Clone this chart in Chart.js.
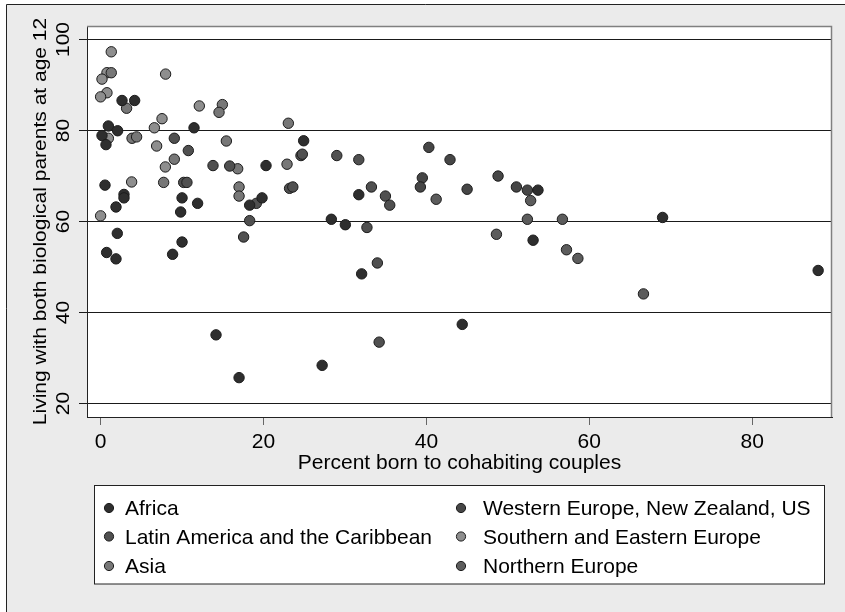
<!DOCTYPE html>
<html><head><meta charset="utf-8">
<script src="https://cdn.jsdelivr.net/npm/chart.js@4"></script>
<style>html,body{margin:0;padding:0;background:#fff}#wrap{width:845px;height:612px;position:relative}canvas{display:block}</style>
</head><body><div id="wrap"><canvas id="c" width="845" height="612"></canvas></div>
<script>
// ---- data ----
const seriesNames = ['Africa','Latin America and the Caribbean','Asia','Western Europe, New Zealand, US','Southern and Eastern Europe','Northern Europe'];
const africaX = [2.63,4.18,11.47,0.95,2.09,0.17,0.66,20.31,0.54,2.87,2.87,1.89,10.0,9.83,11.91,18.3,19.82,2.05,0.74,1.89,10.0,8.84,14.17,17.0,24.93,31.7,28.33,30.05,32.05,44.4,27.2,53.7,69.0,53.1,88.1];
const africaY = [86.6,86.6,80.6,81.0,79.95,78.9,76.9,72.3,68.0,65.96,65.2,63.2,65.2,62.1,64.0,63.6,65.2,57.4,53.2,51.8,55.5,52.8,35.1,25.7,77.75,65.9,60.5,59.3,48.5,37.4,28.4,66.9,60.9,55.9,49.25];
const latinX = [9.05,10.77,13.8,15.85,10.2,10.6,19.12,18.3,23.2,23.6,17.56,24.6,24.77,29.0,31.7,33.25,34.97,35.5,32.7,33.98,34.2];
const latinY = [78.3,75.6,72.3,72.2,68.6,68.6,64.0,60.2,67.3,67.6,56.6,74.5,74.8,74.5,73.6,67.6,65.6,63.6,58.7,50.9,33.5];
const asiaX = [1.31,3.19,3.86,4.42,14.95,14.54,15.44,9.05,16.83,7.74,17.0,17.0,23.05,22.89];
const asiaY = [92.7,84.9,78.3,78.6,85.7,84.0,77.7,73.7,71.6,68.6,67.6,65.6,81.6,72.6];
const westX = [40.3,42.9,39.5,39.26,45.0,48.8,51.05,52.4];
const westY = [76.3,73.6,69.6,67.6,67.1,70.0,67.6,66.9];
const southX = [1.31,0.78,0.17,7.98,0.78,0.0,12.12,7.54,6.6,0.95,6.88,7.95,3.81,0.0];
const southY = [97.3,92.7,91.3,92.4,88.3,87.4,85.4,82.6,80.6,78.3,76.6,72.0,68.7,61.25];
const northX = [41.2,52.8,52.4,56.7,48.6,57.2,58.6,66.65];
const northY = [64.9,64.6,60.5,60.5,57.2,53.8,51.9,44.1];
const xTickValues = [0,20,40,60,80];
const xTickLabels = ['0','20','40','60','80'];
const yTickValues = [20,40,60,80,100];
const yTickLabels = ['20','40','60','80','100'];
const xTitle = 'Percent born to cohabiting couples';
const yTitle = 'Living with both biological parents at age 12';

// ---- styles ----
const seriesColors = ['#2e2e2e','#505050','#777777','#464646','#8e8e8e','#5c5c5c'];
const FONT = '"Liberation Sans", Arial, Helvetica, sans-serif';

function pts(xs, ys){ return xs.map((x,i)=>({x:x, y:ys[i]})); }
const seriesData = [pts(africaX,africaY),pts(latinX,latinY),pts(asiaX,asiaY),pts(westX,westY),pts(southX,southY),pts(northX,northY)];

const datasets = seriesNames.map((n,i)=>({
  label:n, data:seriesData[i],
  backgroundColor:seriesColors[i], borderColor:'#1c1c1c', borderWidth:1,
  pointRadius:5.2, pointHoverRadius:5.2
}));

function vtext(ctx, text, x, y){
  ctx.save(); ctx.translate(x,y); ctx.rotate(-Math.PI/2); ctx.scale(1,0.88);
  ctx.textAlign='center'; ctx.textBaseline='alphabetic'; ctx.fillText(text,0,0); ctx.restore();
}

const stataPlugin = {
  id:'stata',
  beforeDraw(chart){
    const ctx=chart.ctx, a=chart.chartArea;
    ctx.save();
    ctx.fillStyle='#ffffff'; ctx.fillRect(0,0,chart.width,chart.height);
    ctx.fillStyle='#ebebeb'; ctx.fillRect(7,5,chart.width-7,chart.height-5);
    ctx.strokeStyle='#222'; ctx.lineWidth=1;
    ctx.beginPath(); ctx.moveTo(6.5,chart.height); ctx.lineTo(6.5,4.5); ctx.lineTo(chart.width,4.5); ctx.stroke();
    ctx.fillStyle='#ffffff'; ctx.fillRect(a.left,a.top,a.right-a.left,a.bottom-a.top);
    ctx.restore();
  },
  afterDraw(chart){
    const ctx=chart.ctx, a=chart.chartArea, xs=chart.scales.x, ys=chart.scales.y;
    ctx.save();
    // top/right plot border
    ctx.strokeStyle='#808080'; ctx.lineWidth=1.5;
    ctx.beginPath(); ctx.moveTo(a.left,a.top+0.5); ctx.lineTo(a.right-0.5,a.top+0.5); ctx.lineTo(a.right-0.5,a.bottom); ctx.stroke();
    ctx.fillStyle='#000';
    ctx.font='21px '+FONT;
    // x tick labels
    ctx.textAlign='center'; ctx.textBaseline='alphabetic';
    xTickValues.forEach((v,i)=>{ ctx.fillText(xTickLabels[i], xs.getPixelForValue(v), 448); });
    // x title
    ctx.fillText(xTitle, (a.left+a.right)/2, 468.5);
    // y tick labels
    yTickValues.forEach((v,i)=>{ vtext(ctx, yTickLabels[i], 69, ys.getPixelForValue(v)); });
    // y title
    vtext(ctx, yTitle, 46, (a.top+a.bottom)/2);
    // legend
    ctx.fillStyle='#fff'; ctx.fillRect(94,485,731,99);
    ctx.strokeStyle='#222'; ctx.lineWidth=1; ctx.strokeRect(94.5,485.5,730,98.5);
    const colX=[109,461], txtX=[125,483], rowY=[508,536.5,566], baseY=[514.5,543.5,573];
    chart.data.datasets.forEach((ds,i)=>{
      const c=Math.floor(i/3), r=i%3;
      ctx.beginPath(); ctx.arc(colX[c], rowY[r], 4.6, 0, Math.PI*2);
      ctx.fillStyle=ds.backgroundColor; ctx.fill();
      ctx.strokeStyle='#1c1c1c'; ctx.lineWidth=1; ctx.stroke();
      ctx.fillStyle='#000'; ctx.textAlign='left';
      ctx.fillText(ds.label, txtX[c], baseY[r]);
    });
    ctx.restore();
  }
};

new Chart(document.getElementById('c'), {
  type:'scatter',
  data:{datasets:datasets},
  plugins:[stataPlugin],
  options:{
    responsive:false, animation:false, devicePixelRatio:1,
    layout:{padding:{left:0,right:13,top:26,bottom:0}},
    plugins:{legend:{display:false}, tooltip:{enabled:false}},
    scales:{
      x:{type:'linear', min:-1.67, max:89.8,
        afterBuildTicks(s){ s.ticks = xTickValues.map(v=>({value:v})); },
        afterFit(s){ s.height = 195; },
        ticks:{display:false},
        grid:{display:true, drawOnChartArea:false, drawTicks:true, tickLength:8, tickColor:'#666', tickWidth:1},
        border:{display:true, color:'#222', width:1}
      },
      y:{type:'linear', min:17.05, max:102.97,
        afterBuildTicks(s){ s.ticks = yTickValues.map(v=>({value:v})); },
        afterFit(s){ s.width = 87; },
        ticks:{display:false},
        grid:{display:true, drawOnChartArea:true, drawTicks:true, tickLength:8, color:'#1a1a1a', tickColor:'#1a1a1a', lineWidth:1},
        border:{display:true, color:'#222', width:1}
      }
    }
  }
});
</script></body></html>
